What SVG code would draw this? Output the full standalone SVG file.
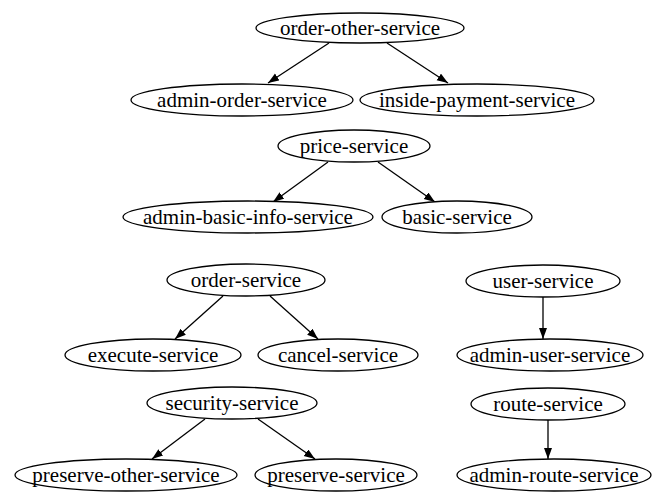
<svg xmlns="http://www.w3.org/2000/svg" width="656" height="493" viewBox="0 0 656 493">
<defs>
<marker id="arr" markerUnits="userSpaceOnUse" markerWidth="12" markerHeight="10" refX="11" refY="4" orient="auto">
<path d="M0,0 L11,4 L0,8 Z" fill="#000"/>
</marker>
<style>
.n ellipse{fill:#fff;stroke:#000;stroke-width:1.3}
.n text{font-size:21px;fill:#000;text-anchor:middle}
.e line{stroke:#000;stroke-width:1.3;marker-end:url(#arr)}
</style>
</defs>
<rect width="656" height="493" fill="#fff"/>
<g id="edges" class="e">
<line x1="329" y1="43" x2="268" y2="83"/>
<line x1="387" y1="43" x2="448" y2="83"/>
<line x1="328" y1="162" x2="273" y2="202"/>
<line x1="378" y1="162" x2="435" y2="202"/>
<line x1="223" y1="296" x2="175" y2="339"/>
<line x1="270" y1="296" x2="318" y2="339"/>
<line x1="205" y1="419" x2="152" y2="459"/>
<line x1="258" y1="419" x2="315" y2="459"/>
<line x1="543" y1="297" x2="543" y2="339"/>
<line x1="548" y1="420" x2="548" y2="459"/>
</g>
<g id="nodes" font-family="'Liberation Serif', 'DejaVu Serif', serif">
<g id="order-other-service" class="n"><ellipse cx="360" cy="28" rx="104" ry="15"/><text x="360" y="35">order-other-service</text></g>
<g id="admin-order-service" class="n"><ellipse cx="242" cy="100" rx="111" ry="16"/><text x="242" y="107">admin-order-service</text></g>
<g id="inside-payment-service" class="n"><ellipse cx="477" cy="100" rx="117" ry="16"/><text x="477" y="107">inside-payment-service</text></g>
<g id="price-service" class="n"><ellipse cx="354" cy="146" rx="76" ry="16"/><text x="354" y="153">price-service</text></g>
<g id="admin-basic-info-service" class="n"><ellipse cx="248" cy="217" rx="125" ry="16"/><text x="248" y="224">admin-basic-info-service</text></g>
<g id="basic-service" class="n"><ellipse cx="457" cy="217" rx="75" ry="16"/><text x="457" y="224">basic-service</text></g>
<g id="order-service" class="n"><ellipse cx="246" cy="280" rx="79" ry="16"/><text x="246" y="287">order-service</text></g>
<g id="execute-service" class="n"><ellipse cx="153" cy="355" rx="88" ry="16"/><text x="153" y="362">execute-service</text></g>
<g id="cancel-service" class="n"><ellipse cx="338" cy="355" rx="80" ry="16"/><text x="338" y="362">cancel-service</text></g>
<g id="security-service" class="n"><ellipse cx="232" cy="403" rx="85" ry="16"/><text x="232" y="410">security-service</text></g>
<g id="preserve-other-service" class="n"><ellipse cx="126" cy="475" rx="111" ry="16"/><text x="126" y="482">preserve-other-service</text></g>
<g id="preserve-service" class="n"><ellipse cx="336" cy="475" rx="81" ry="16"/><text x="336" y="482">preserve-service</text></g>
<g id="user-service" class="n"><ellipse cx="543" cy="281" rx="77" ry="16"/><text x="543" y="288">user-service</text></g>
<g id="admin-user-service" class="n"><ellipse cx="550" cy="355" rx="93" ry="16"/><text x="550" y="362">admin-user-service</text></g>
<g id="route-service" class="n"><ellipse cx="548" cy="404" rx="77" ry="16"/><text x="548" y="411">route-service</text></g>
<g id="admin-route-service" class="n"><ellipse cx="554" cy="475" rx="97" ry="16"/><text x="554" y="482">admin-route-service</text></g>
</g>
</svg>
